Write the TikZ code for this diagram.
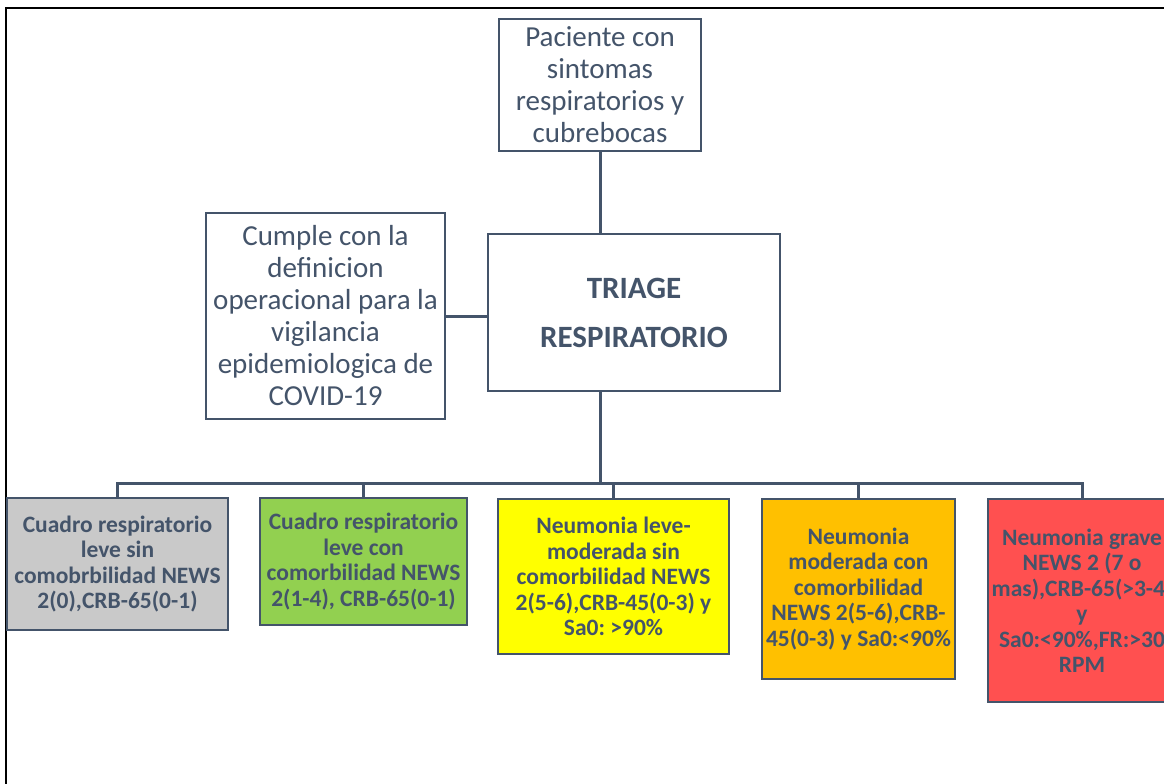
\documentclass[tikz,border=0pt]{standalone}
\usepackage{fontspec}
\setmainfont{Carlito}
\frenchspacing
\definecolor{txt}{HTML}{44546A}
\definecolor{gris}{HTML}{C9C9C9}
\definecolor{verde}{HTML}{92D050}
\definecolor{amar}{HTML}{FFFF00}
\definecolor{naranja}{HTML}{FFC000}
\definecolor{rojo}{HTML}{FF5050}
\tikzset{
  box/.style={draw=txt, line width=2.8pt, rectangle, inner sep=0pt, align=center, text=txt},
  topbox/.style={box, fill=white, font=\fontsize{29}{32}\selectfont},
  catbox/.style={box, font=\fontsize{23.5}{25.5}\selectfont\bfseries},
  conn/.style={draw=txt, line width=3pt}
}
\begin{document}
\begin{tikzpicture}[x=1pt,y=-1pt]
\useasboundingbox (0,0) rectangle (1164,784);
\clip (0,0) rectangle (1164,784);
\fill[white] (0,0) rectangle (1164,784);
\draw[black, line width=2.2pt] (6,784) -- (6,8) -- (1164,8);

\node[topbox, minimum width=202pt, minimum height=132pt] (p) at (600,85)
  {Paciente con\\sintomas\\respiratorios y\\cubrebocas};
\node[box, fill=white, minimum width=292pt, minimum height=157pt,
  font=\fontsize{31}{49}\selectfont\bfseries] (t) at (634,312.5)
  {TRIAGE\\RESPIRATORIO};
\node[topbox, minimum width=239pt, minimum height=206pt] (c) at (325.5,316)
  {Cumple con la\\definicion\\operacional para la\\vigilancia\\epidemiologica de\\COVID-19};

\node[catbox, fill=gris, minimum width=221pt, minimum height=132pt] (a) at (117.5,564)
  {Cuadro respiratorio\\leve sin\\comobrbilidad NEWS\\2(0),CRB-65(0-1)};
\node[catbox, fill=verde, minimum width=207pt, minimum height=127pt] (b) at (363.5,561.5)
  {Cuadro respiratorio\\leve con\\comorbilidad NEWS\\2(1-4), CRB-65(0-1)};
\node[catbox, fill=amar, minimum width=231pt, minimum height=155pt] (m) at (613.5,576.5)
  {Neumonia leve-\\moderada sin\\comorbilidad NEWS\\2(5-6),CRB-45(0-3) y\\Sa0: >90\%};
\node[catbox, fill=naranja, minimum width=193pt, minimum height=180pt] (d) at (858.5,589)
  {Neumonia\\moderada con\\comorbilidad\\NEWS 2(5-6),CRB-\\45(0-3) y Sa0:<90\%};
\node[catbox, fill=rojo, minimum width=188pt, minimum height=203pt] (e) at (1082,600.5)
  {Neumonia grave\\NEWS 2 (7 o\\mas),CRB-65(>3-4)\\y\\Sa0:<90\%,FR:>30\\RPM};

\coordinate (bus) at (600,483);
\draw[conn] (p.south) -- (p.south |- t.north);
\draw[conn] (c.east) -- (c.east -| t.west);
\draw[conn] (p.south |- t.south) -- (bus);
\draw[conn] (a.north) |- (bus) -| (e.north);
\draw[conn] (b.north) -- (b.north |- bus);
\draw[conn] (m.north) -- (m.north |- bus);
\draw[conn] (d.north) -- (d.north |- bus);
\end{tikzpicture}
\end{document}
